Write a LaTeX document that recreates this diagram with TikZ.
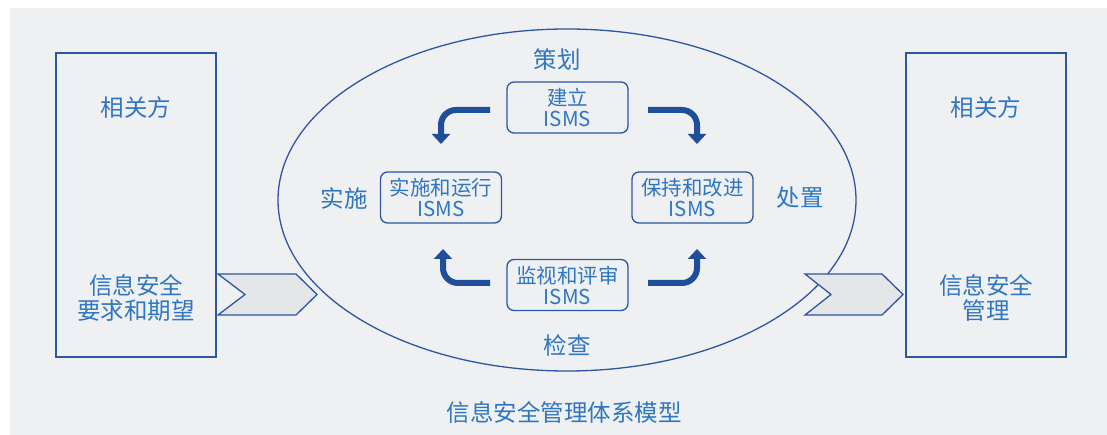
\documentclass[tikz,border=0pt]{standalone}
\usepackage{fontspec}
\setmainfont{Noto Sans CJK SC}
\usetikzlibrary{arrows.meta,shapes.geometric}
\definecolor{bg}{HTML}{EFF0F2}
\definecolor{edge}{HTML}{2B56A3}
\definecolor{txt}{HTML}{2F76C2}
\definecolor{arr}{HTML}{1F4F9B}
\definecolor{chev}{HTML}{E5E6E8}
\tikzset{
  lbl/.style={text=txt, font=\fontsize{23.5}{25}\selectfont, align=center, inner sep=0pt},
  ismsbox/.style={draw=edge, line width=1.3pt, rounded corners=7pt, minimum width=121pt, minimum height=51pt, text=txt, font=\fontsize{20.5}{21}\selectfont, align=center, inner sep=0pt},
  sidebox/.style={draw=edge, line width=1.5pt, minimum width=160pt, minimum height=304pt, inner sep=0pt},
  chevron/.style={draw=edge, fill=chev, line width=1.3pt, line join=miter},
  cyc/.style={draw=arr, line width=6pt, rounded corners=15pt, -{Triangle[width=18pt,length=10pt]}}
}
\begin{document}
\begin{tikzpicture}[x=1pt,y=-1pt]
\useasboundingbox (0,0) rectangle (1107,435);
\fill[bg] (10,8) rectangle (1107,435);
% side boxes
\node[sidebox] (lbox) at (136,205) {};
\node[sidebox] (rbox) at (986,205) {};
\node[lbl] (lparty) at (136,108) {相关方};
\node[lbl] (lreq) at (136,298) {信息安全\\要求和期望};
\node[lbl] (rparty) at (986,108) {相关方};
\node[lbl] (rmgmt) at (986,298) {信息安全\\管理};
% ellipse
\node[draw=edge, line width=1.3pt, ellipse, inner sep=0pt, minimum width=578pt, minimum height=342pt] (ell) at (567,200) {};
% chevrons
\draw[chevron] (218,274) -- (296,274) -- (317,294.5) -- (296,315) -- (218,315) -- (245,294.5) -- cycle;
\draw[chevron] (805,274) -- (882,274) -- (903,294.5) -- (882,315) -- (805,315) -- (831,294.5) -- cycle;
% boxes
\node[ismsbox] (plan) at (567.5,107.5) {建立\\ISMS};
\node[ismsbox] (check) at (567.5,285) {监视和评审\\ISMS};
\node[ismsbox] (do) at (441,197.5) {实施和运行\\ISMS};
\node[ismsbox] (act) at (692.5,197.5) {保持和改进\\ISMS};
% phase labels
\node[lbl] (lplan) at (557,60) {策划};
\node[lbl] (ldo) at (344,198) {实施};
\node[lbl] (lact) at (800,198) {处置};
\node[lbl] (lcheck) at (567,345) {检查};
% cycle arrows
\coordinate (a1s) at (490,110); \coordinate (a1c) at (441,110); \coordinate (a1e) at (441,144);
\coordinate (a2s) at (648,110); \coordinate (a2c) at (697,110); \coordinate (a2e) at (697,144);
\coordinate (a3s) at (490,283); \coordinate (a3c) at (443,283); \coordinate (a3e) at (443,249);
\coordinate (a4s) at (648,283); \coordinate (a4c) at (697,283); \coordinate (a4e) at (697,249);
\draw[cyc] (a1s) -- (a1c) -- (a1e);
\draw[cyc] (a2s) -- (a2c) -- (a2e);
\draw[cyc] (a3s) -- (a3c) -- (a3e);
\draw[cyc] (a4s) -- (a4c) -- (a4e);
% title
\node[lbl] (title) at (564,412) {信息安全管理体系模型};
\end{tikzpicture}
\end{document}
